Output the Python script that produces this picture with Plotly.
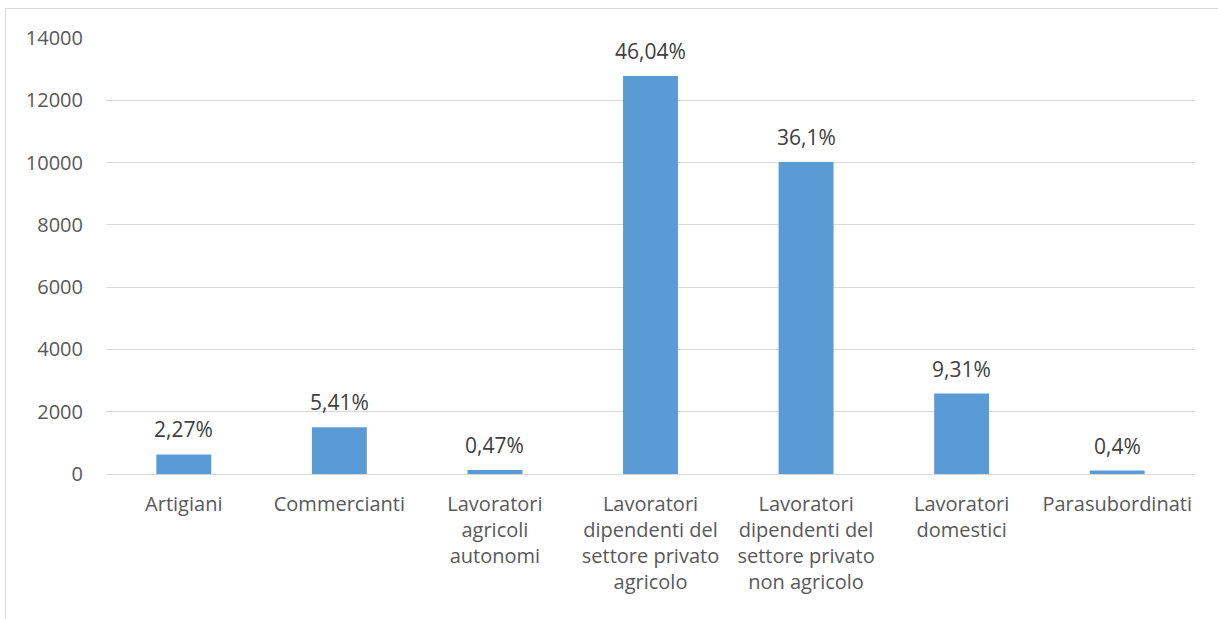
import plotly.graph_objects as go

categories = [
    "Artigiani",
    "Commercianti",
    "Lavoratori<br>agricoli<br>autonomi",
    "Lavoratori<br>dipendenti del<br>settore privato<br>agricolo",
    "Lavoratori<br>dipendenti del<br>settore privato<br>non agricolo",
    "Lavoratori<br>domestici",
    "Parasubordinati",
]
values = [630, 1501, 130, 12776, 10018, 2584, 111]
pct_labels = ["2,27%", "5,41%", "0,47%", "46,04%", "36,1%", "9,31%", "0,4%"]
y_ticks = [0, 2000, 4000, 6000, 8000, 10000, 12000, 14000]
y_tick_text = ["0", "2000", "4000", "6000", "8000", "10000", "12000", "14000"]

FONT = "Open Sans"

fig = go.Figure()
fig.add_trace(go.Bar(
    x=categories, y=values,
    marker=dict(color="#5b9bd5", line=dict(width=0)),
    hoverinfo="skip",
))

for c, v, t in zip(categories, values, pct_labels):
    fig.add_annotation(x=c, y=v, text=t, showarrow=False, yanchor="bottom",
                       yshift=9, font=dict(family=FONT, size=21, color="#404040"))

fig.add_shape(type="rect", xref="paper", yref="paper",
              x0=(5.5 - 106) / 1089, x1=(1240 - 106) / 1089,
              y0=(436 - (650 - 38)) / 436, y1=1 + (38 - 8.5) / 436,
              line=dict(color="#d9d9d9", width=1), layer="below")

fig.update_layout(
    width=1218, height=619,
    margin=dict(l=106, r=23, t=38, b=145, autoexpand=False),
    paper_bgcolor="white", plot_bgcolor="white",
    showlegend=False,
    bargap=0.647,
    xaxis=dict(
        tickfont=dict(family=FONT, size=20, color="#595959"),
        showgrid=False, showline=False, ticks="", ticklabelstandoff=16,
        tickangle=0,
    ),
    yaxis=dict(
        range=[0, 14000], tickvals=y_ticks, ticktext=y_tick_text,
        tickfont=dict(family=FONT, size=20, color="#595959"),
        showgrid=True, gridcolor="#d9d9d9", gridwidth=1,
        zeroline=True, zerolinecolor="#d9d9d9", zerolinewidth=1,
        showline=False, ticks="", ticklabelstandoff=22,
    ),
)

fig.write_html(
    "out.html",
    config={"displayModeBar": False},
    post_script="document.body.style.margin='0';document.body.style.overflow='hidden';",
)
